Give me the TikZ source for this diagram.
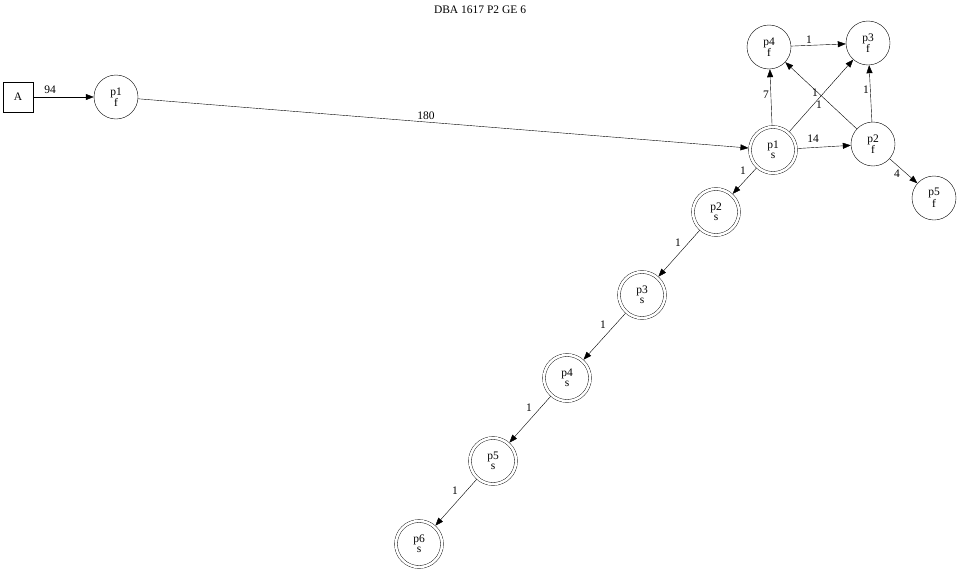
\documentclass[tikz,border=0pt]{standalone}
\usepackage{fontspec}
\setmainfont{Liberation Serif}
\usetikzlibrary{arrows.meta}
\begin{document}
\begin{tikzpicture}[x=1pt,y=-1pt,
  every node/.style={font=\fontsize{11.5}{10}\selectfont},
  fstate/.style={circle,draw,minimum size=44pt,inner sep=0pt,align=center},
  sstate/.style={circle,draw,double,double distance=2.5pt,minimum size=46pt,inner sep=0pt,outer sep=1.6pt,align=center},
  boxnode/.style={rectangle,draw,minimum size=30pt,inner sep=0pt},
  edge/.style={draw,-{Triangle[length=8pt,width=6pt]}},
  lbl/.style={inner sep=1pt}]
\useasboundingbox (0,0) rectangle (960,570);
\node (title) at (480,10) {DBA 1617 P2 GE 6};
\node[boxnode] (A) at (18,97) {A};
\node[fstate] (p1f) at (116,97) {p1\\f};
\node[sstate] (p1s) at (773,150) {p1\\s};
\node[fstate] (p4f) at (769,47) {p4\\f};
\node[fstate] (p3f) at (868,43) {p3\\f};
\node[fstate] (p2f) at (873,144) {p2\\f};
\node[fstate] (p5f) at (934,198) {p5\\f};
\node[sstate] (p2s) at (716,212) {p2\\s};
\node[sstate] (p3s) at (642,295) {p3\\s};
\node[sstate] (p4s) at (567,378) {p4\\s};
\node[sstate] (p5s) at (493,461) {p5\\s};
\node[sstate] (p6s) at (419,544) {p6\\s};
\draw[edge] (A) -- (p1f);
\draw[edge] (p1f) -- (p1s);
\draw[edge] (p1s) -- (p4f);
\draw[edge] (p1s) -- (p3f);
\draw[edge] (p1s) -- (p2f);
\draw[edge] (p2f) -- (p4f);
\draw[edge] (p2f) -- (p3f);
\draw[edge] (p2f) -- (p5f);
\draw[edge] (p4f) -- (p3f);
\draw[edge] (p1s) -- (p2s);
\draw[edge] (p2s) -- (p3s);
\draw[edge] (p3s) -- (p4s);
\draw[edge] (p4s) -- (p5s);
\draw[edge] (p5s) -- (p6s);
\node[lbl] (l1) at (50,90) {94};
\node[lbl] (l2) at (426,116) {180};
\node[lbl] (l3) at (813,139) {14};
\node[lbl] (l4) at (766,95) {7};
\node[lbl] (l5) at (819,105) {1};
\node[lbl] (l6) at (815,93) {1};
\node[lbl] (l7) at (866,90) {1};
\node[lbl] (l8) at (809,40) {1};
\node[lbl] (l9) at (897,174) {4};
\node[lbl] (l10) at (743,171) {1};
\node[lbl] (l11) at (678,243) {1};
\node[lbl] (l12) at (603,325) {1};
\node[lbl] (l13) at (529,408) {1};
\node[lbl] (l14) at (455,491) {1};
\end{tikzpicture}
\end{document}
